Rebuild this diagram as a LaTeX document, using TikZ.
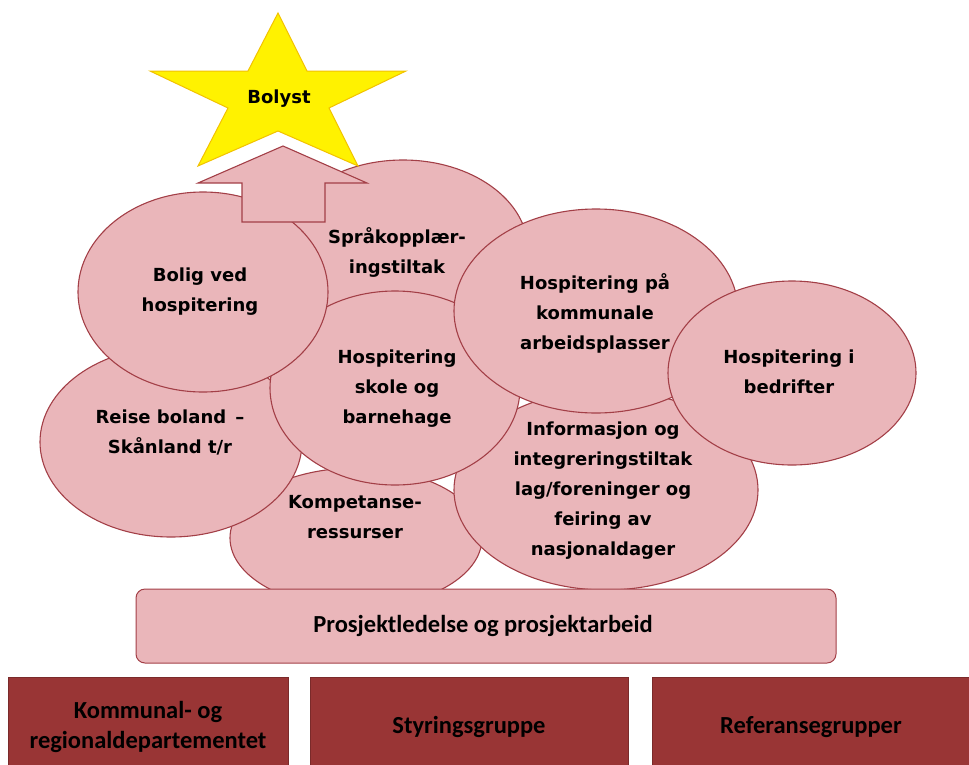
\documentclass[tikz,border=0pt]{standalone}
\usepackage{fontspec}
\setmainfont{DejaVu Sans}
\newfontfamily\condfont{Carlito}
\usetikzlibrary{shapes.geometric}
\definecolor{blobfill}{HTML}{EAB6BA}
\definecolor{blobline}{HTML}{A33F47}
\definecolor{basefill}{HTML}{993535}
\definecolor{basedraw}{HTML}{7A2A2A}
\definecolor{starline}{HTML}{F2C200}
\begin{document}
\begin{tikzpicture}[x=1pt,y=-1pt,
  blob/.style={ellipse, draw=blobline, line width=1.1pt, fill=blobfill, inner sep=0pt},
  lbl/.style={font=\fontsize{18}{30}\selectfont\bfseries, align=center, text=black, inner sep=0pt},
  baselbl/.style={font=\condfont\fontsize{24.5}{30}\selectfont\bfseries, align=center, text=black, inner sep=0pt},
  basebox/.style={fill=basefill, draw=basedraw, line width=0.6pt},
  projbox/.style={fill=blobfill, draw=blobline, line width=1pt, rounded corners=9pt}]
\useasboundingbox (0,0) rectangle (969,764);
% ellipses, back to front
\node[blob, minimum width=252pt, minimum height=140pt] (komp) at (356,538) {};
\node[blob, minimum width=262pt, minimum height=190pt] (reise) at (171,442) {};
\node[blob, minimum width=304pt, minimum height=200pt] (info) at (606,490) {};
\node[blob, minimum width=250pt, minimum height=180pt] (spraak) at (403,250) {};
\node[blob, minimum width=250pt, minimum height=194pt] (skole) at (395,388) {};
\node[blob, minimum width=250pt, minimum height=200pt] (bolig) at (203,292) {};
\node[blob, minimum width=284pt, minimum height=204pt] (paa) at (596,311) {};
\node[blob, minimum width=248pt, minimum height=184pt] (bedr) at (792,373) {};
% block arrow
\draw[fill=blobfill, draw=blobline, line width=1.1pt]
  (242,222) -- (242,183) -- (198,183) -- (283,146) -- (367,183) -- (325,183) -- (325,222) -- cycle;
% star
\draw[fill=yellow, draw=starline, line width=1pt, line join=miter]
  (278,13) -- (307,71) -- (406,71) -- (329,108) -- (358,166) -- (278,131)
  -- (198,166) -- (228,108) -- (150,71) -- (248,71) -- cycle;
\node[lbl] (bolyst) at (279,99) {Bolyst};
% project box
\draw[projbox] (136,589) rectangle (836,663);
\node[baselbl] (proj) at (483,626) {Prosjektledelse og prosjektarbeid};
% bottom boxes
\draw[basebox] (8,677) rectangle (288,772);
\draw[basebox] (310,677) rectangle (628,772);
\draw[basebox] (652,677) rectangle (975,772);
\node[baselbl] (krd) at (148,727) {Kommunal- og\\regionaldepartementet};
\node[baselbl] (styr) at (469,727) {Styringsgruppe};
\node[baselbl] (ref) at (811,727) {Referansegrupper};
% ellipse texts
\node[lbl] (tbolig) at (200,292) {Bolig ved\\hospitering};
\node[lbl] (tspraak) at (397,252) {Språkopplær-\\ingstiltak};
\node[lbl] (tskole) at (397,389) {Hospitering\\skole og\\barnehage};
\node[lbl] (treise) at (170,432) {Reise boland \,–\\Skånland t/r};
\node[lbl] (tkomp) at (355,517) {Kompetanse-\\ressurser};
\node[lbl] (tpaa) at (595,313) {Hospitering på\\kommunale\\arbeidsplasser};
\node[lbl] (tbedr) at (789,372) {Hospitering i\\bedrifter};
\node[lbl] (tinfo) at (603,491) {Informasjon og\\integreringstiltak\\lag/foreninger og\\feiring av\\nasjonaldager};
\end{tikzpicture}
\end{document}
